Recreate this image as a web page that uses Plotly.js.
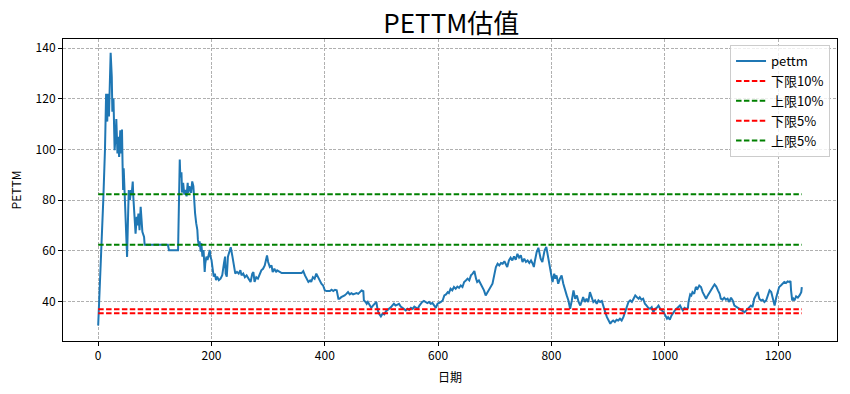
<!DOCTYPE html>
<html>
<head>
<meta charset="utf-8">
<script src="https://cdn.plot.ly/plotly-3.0.1.min.js"></script>
<style>html,body{margin:0;padding:0;background:#fff;}#chart{width:850px;height:394px;}</style>
</head>
<body>
<div id="chart"></div>
<script>
const days = [0,3,6,9,12,13,14,16,17,19,21,22,24,25,27,28,29,31,32,34,35,37,39,40,42,43,44,45,47,48,50,51,53,54,56,58,59,61,62,64,66,68,69,71,73,75,77,78,81,82,123,125,141,144,145,147,148,150,152,154,156,158,159,161,164,166,168,169,171,173,175,176,178,179,181,182,184,186,188,189,191,193,195,197,198,200,202,204,206,208,210,213,216,219,222,224,225,227,229,232,234,237,239,242,245,248,251,
253,256,259,262,265,268,269,272,274,276,279,282,285,288,291,294,296,298,300,303,306,308,311,314,316,321,324,359,362,365,368,371,374,376,379,382,385,388,391,394,397,400,403,409,412,415,418,421,424,426,429,432,435,438,441,444,447,450,453,456,459,462,465,468,469,472,474,476,479,482,485,488,491,493,495,499,502,505,508,511,
514,517,519,522,525,528,531,534,537,540,543,546,549,552,555,558,561,564,567,569,572,575,578,581,584,587,590,593,596,599,602,605,608,611,614,617,619,622,625,628,631,634,637,640,643,646,649,652,655,658,661,664,667,669,672,675,678,681,684,687,690,693,696,699,702,705,708,711,714,717,719,722,725,728,731,734,737,740,743,746,749,752,755,758,761,764,767,769,
771,774,777,779,781,784,786,788,791,793,795,798,800,802,805,807,809,812,815,818,821,824,827,830,833,836,839,842,845,848,851,854,856,859,862,865,868,871,874,877,880,883,886,889,892,895,898,901,904,906,909,912,915,918,921,924,927,930,933,936,939,942,945,948,951,954,956,959,962,965,968,971,974,977,980,983,986,989,992,995,998,1001,1004,1006,1009,1012,1015,1018,1021,1024,1027,
1029,1032,1035,1038,1041,1042,1045,1047,1049,1052,1055,1058,1061,1064,1067,1070,1073,1076,1079,1082,1085,1088,1091,1094,1097,1099,1102,1105,1108,1111,1114,1117,1120,1123,1126,1129,1132,1135,1138,1141,1144,1147,1149,1152,1155,1158,1161,1164,1167,1170,1173,1176,1179,1182,1185,1188,1191,1194,1197,1199,1202,1205,1208,1211,1214,1217,1220,1222,1223,1225,1227,1229,1232,1235,1238,1241,1242];

const pettm = [30.5,45,62,80,100,110,122,111,122,113,131,138.2,128.7,114.9,120.1,114,99.7,106,112,98.4,105,97,107.6,98.4,107.9,94.6,84,92.6,78.7,70.8,65.5,57.6,76,84,80,84,82,87.3,81.3,73.4,66.8,73.4,70,74.7,68.1,77.4,72,67.5,65.5,62.4,62.4,60.2,60.2,96,89,91,83,86.8,82.2,84,81.5,86.8,82.9,85.5,82.9,87.4,85.5,80.2,74.9,70.9,68.3,64.4,61.7,63.7,59.7,63,57.7,60.3,51.7,55,57.7,56.4,59,60.3,57.7,56.4,53,49.8,51,48.4,49.8,48.4,49,50.4,55,57.7,51,49.8,57.7,60.3,61.4,57.7,55,51,51.7,51,52.3,
50.3,51,49.6,50.3,49,48.3,47.7,51,51.6,47.7,49.6,49,51,52.3,52.9,54.2,56.2,58.2,55.6,53.6,54.2,51.6,52.9,51.6,52.3,51.6,51.2,51.2,52,50.3,49,47.7,48.3,47.7,49.6,49,51,49.6,48.3,47,46.3,44.4,44.1,44.1,44.6,44.1,44.6,44.4,41.1,41.1,41.7,42,42.4,43,43.7,42.8,43.3,42.8,43,43.3,43,43.7,44.4,44.1,40.4,39.8,39.1,39.8,38.4,37.5,38.4,39.1,39.8,37.1,35.4,34.1,35.2,34.9,36.2,36.7,
37.1,37.8,38.4,39.1,38.4,38.8,39.1,38,37.5,37.1,36.5,37.1,36.7,37.5,37.1,38,37.5,37.1,38.4,39.1,39.8,40.2,39.8,39.4,39.8,39.1,39.4,38.4,37.5,39.1,39.4,39.8,40.4,42.4,42.8,43.7,43.3,45,44.4,45.7,45,45.9,45.4,46.3,45.7,47.7,48.3,49,48.3,50.3,51,52,49,47.7,48.3,47,46.3,44.4,42.4,43.7,45,46.3,47,50.3,53.6,54.9,54.2,55.2,54.9,55.9,55.2,53.6,56.2,57.3,56.2,57.8,56.5,58.8,57.3,58.2,55.6,56.9,55.6,56.2,55.2,56.2,54.9,53.6,
56.2,59.5,61.2,58.8,56.9,55.6,58.2,60.2,61.5,58.8,56.2,53.6,51,47.7,51,49,50.3,47,49,50.3,47,44.4,42.4,40.4,37.1,40.4,44.4,41.1,42.4,39.8,38.4,40.4,41.7,39.8,41.1,39.8,43.7,41.7,39.8,40.4,39.1,40.4,39.8,40.2,38.4,35.8,33.8,32.5,31.2,31.9,32.5,31.9,32.8,32.5,33.2,32.5,33.8,35.8,37.8,39.8,40.4,39.8,41.1,42.4,41.7,41.1,41.7,40.7,41.1,39.1,38.4,37.5,37.1,37.8,35.8,37.1,37.5,38.4,37.1,36.5,35.8,34.5,33.2,33.8,32.8,34.5,35.8,36.5,37.1,37.8,38.4,
37.5,36.5,37.5,37.1,37.5,39.8,42.8,42.4,43.7,43,45.7,45,46.3,45.7,43.7,42.4,41.1,42.4,43.7,44.6,45.7,46.7,45.9,44.4,43,41.1,40.7,41.5,40.7,41.1,39.8,41.5,40.4,38.4,38,37.5,37.1,36.7,36.2,35.8,36.5,37.1,37.5,38.4,37.8,41.1,42.4,43.7,41.1,40.4,40.7,39.8,40.4,42.4,44.4,43.7,40.4,38.4,41.7,43.7,45.7,46.3,47,47.7,47.3,47.9,47.7,48.1,44.4,40.4,41.1,40.4,42,41.5,42.4,43.7,45.7];

const seriesNames = ["pettm", "下限10%", "上限10%", "下限5%", "上限5%"];
const lower10 = 36.9;
const upper10 = 62.4;
const lower5 = 35.4;
const upper5 = 82.3;
const xTicks = [0, 200, 400, 600, 800, 1000, 1200];
const yTicks = [40, 60, 80, 100, 120, 140];

const xStart = days[0];
const xEnd = days[days.length - 1];
const dashStyle = "5.5px,2.4px";

const traces = [
  {x: days, y: pettm, name: seriesNames[0], type: "scatter", mode: "lines",
   line: {color: "#1f77b4", width: 2}},
  {x: [xStart, xEnd], y: [lower10, lower10], name: seriesNames[1], type: "scatter", mode: "lines",
   line: {color: "red", width: 2, dash: dashStyle}},
  {x: [xStart, xEnd], y: [upper10, upper10], name: seriesNames[2], type: "scatter", mode: "lines",
   line: {color: "green", width: 2, dash: dashStyle}},
  {x: [xStart, xEnd], y: [lower5, lower5], name: seriesNames[3], type: "scatter", mode: "lines",
   line: {color: "red", width: 2, dash: dashStyle}},
  {x: [xStart, xEnd], y: [upper5, upper5], name: seriesNames[4], type: "scatter", mode: "lines",
   line: {color: "green", width: 2, dash: dashStyle}}
];

const font = "Noto Sans CJK SC, DejaVu Sans, sans-serif";
const axisCommon = {
  showline: true, mirror: true, linecolor: "black", linewidth: 1,
  ticks: "outside", ticklen: 4, tickwidth: 1, tickcolor: "black",
  showgrid: true, gridcolor: "#b0b0b0", gridwidth: 1, griddash: "3px,1.5px",
  zeroline: false, tickfont: {family: font, size: 12, color: "black"}
};

const layout = {
  width: 850, height: 394,
  margin: {l: 63, r: 13, t: 39, b: 53},
  paper_bgcolor: "white", plot_bgcolor: "white",
  font: {family: font, color: "black"},
  title: {text: "PETTM估值", font: {family: font, size: 26, color: "black"}, x: 0.531, xanchor: "center", y: 0.94, yanchor: "middle"},
  xaxis: Object.assign({}, axisCommon, {
    range: [-62.1, 1304.1], tickvals: xTicks, ticktext: xTicks.map(String),
    title: {text: "日期", font: {family: font, size: 12, color: "black"}, standoff: 11}
  }),
  yaxis: Object.assign({}, axisCommon, {
    range: [24.4, 143.6], tickvals: yTicks, ticktext: yTicks.map(String),
    title: {text: "PETTM", font: {family: font, size: 12, color: "black"}, standoff: 11}
  }),
  showlegend: true,
  legend: {
    x: 0.991, xanchor: "right", y: 0.98, yanchor: "top",
    bgcolor: "rgba(255,255,255,0.8)", bordercolor: "#cccccc", borderwidth: 1,
    font: {family: font, size: 13, color: "black"},
    tracegroupgap: 0, itemwidth: 30
  }
};

Plotly.newPlot("chart", traces, layout, {displayModeBar: false, staticPlot: true});
</script>
</body>
</html>
